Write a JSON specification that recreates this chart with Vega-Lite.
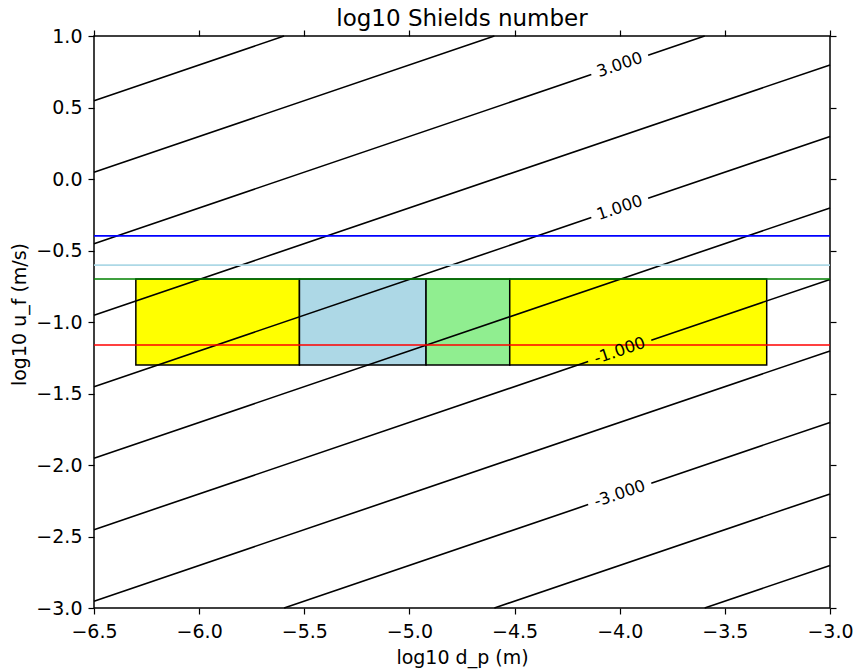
{
  "$schema": "https://vega.github.io/schema/vega-lite/v6.json",
  "width": 736,
  "height": 572,
  "autosize": {"type": "none"},
  "padding": {"left": 94, "top": 36, "right": 24, "bottom": 63},
  "background": "white",
  "title": {"text": "log10 Shields number", "fontSize": 23, "fontWeight": "normal", "font": "DejaVu Sans", "anchor": "middle", "baseline": "alphabetic", "offset": -22, "color": "black"},
  "config": {
    "view": {"stroke": "black", "strokeWidth": 1.5},
    "axis": {"domain": false, "grid": false, "tickColor": "black", "tickSize": 6, "tickWidth": 1.2, "labelFont": "DejaVu Sans", "labelFontSize": 19, "labelColor": "black", "titleFont": "DejaVu Sans", "titleFontSize": 19, "titleFontWeight": "normal", "titleColor": "black", "labelOverlap": false, "labelFlush": false, "labelBound": false}
  },
  "datasets": {
    "rects": [
      {"x": -6.301, "x2": -5.523, "y": -1.301, "y2": -0.699, "band": "r1"},
      {"x": -5.523, "x2": -4.921, "y": -1.301, "y2": -0.699, "band": "r2"},
      {"x": -4.921, "x2": -4.523, "y": -1.301, "y2": -0.699, "band": "r3"},
      {"x": -4.523, "x2": -3.301, "y": -1.301, "y2": -0.699, "band": "r4"}
    ],
    "hlines": [
      {"y": -0.398, "line": "h1"},
      {"y": -0.602, "line": "h2"},
      {"y": -0.699, "line": "h3"},
      {"y": -1.161, "line": "h4"}
    ],
    "contours": [
      {"seg": "L5", "x": -6.5, "y": 0.548}, {"seg": "L5", "x": -5.596, "y": 1.0},
      {"seg": "L4", "x": -6.5, "y": 0.048}, {"seg": "L4", "x": -4.596, "y": 1.0},
      {"seg": "L3a", "x": -6.5, "y": -0.452}, {"seg": "L3a", "x": -4.135, "y": 0.730},
      {"seg": "L3b", "x": -3.865, "y": 0.865}, {"seg": "L3b", "x": -3.596, "y": 1.0},
      {"seg": "L2", "x": -6.5, "y": -0.952}, {"seg": "L2", "x": -3.0, "y": 0.798},
      {"seg": "L1a", "x": -6.5, "y": -1.452}, {"seg": "L1a", "x": -4.135, "y": -0.270},
      {"seg": "L1b", "x": -3.865, "y": -0.135}, {"seg": "L1b", "x": -3.0, "y": 0.298},
      {"seg": "L0", "x": -6.5, "y": -1.952}, {"seg": "L0", "x": -3.0, "y": -0.202},
      {"seg": "Lm1a", "x": -6.5, "y": -2.452}, {"seg": "Lm1a", "x": -4.15, "y": -1.277},
      {"seg": "Lm1b", "x": -3.85, "y": -1.127}, {"seg": "Lm1b", "x": -3.0, "y": -0.702},
      {"seg": "Lm2", "x": -6.5, "y": -2.952}, {"seg": "Lm2", "x": -3.0, "y": -1.202},
      {"seg": "Lm3a", "x": -5.596, "y": -3.0}, {"seg": "Lm3a", "x": -4.15, "y": -2.277},
      {"seg": "Lm3b", "x": -3.85, "y": -2.127}, {"seg": "Lm3b", "x": -3.0, "y": -1.702},
      {"seg": "Lm4", "x": -4.596, "y": -3.0}, {"seg": "Lm4", "x": -3.0, "y": -2.202},
      {"seg": "Lm5", "x": -3.596, "y": -3.0}, {"seg": "Lm5", "x": -3.0, "y": -2.702}
    ],
    "labels": [
      {"x": -4.0, "y": 0.798, "label": "3.000"},
      {"x": -4.0, "y": -0.202, "label": "1.000"},
      {"x": -4.0, "y": -1.202, "label": "-1.000"},
      {"x": -4.0, "y": -2.202, "label": "-3.000"}
    ]
  },
  "layer": [
    {
      "data": {"name": "rects"},
      "mark": {"type": "rect", "stroke": "black", "strokeWidth": 1.5},
      "encoding": {
        "x": {"field": "x", "type": "quantitative", "scale": {"domain": [-6.5, -3.0], "nice": false, "zero": false},
          "axis": {"orient": "bottom", "values": [-6.5, -6.0, -5.5, -5.0, -4.5, -4.0, -3.5, -3.0], "format": ".1f", "labelPadding": 8, "title": "log10 d_p (m)", "titleY": 55, "titleBaseline": "alphabetic", "titleAnchor": "middle"}},
        "x2": {"field": "x2"},
        "y": {"field": "y", "type": "quantitative", "scale": {"domain": [-3.0, 1.0], "nice": false, "zero": false},
          "axis": {"orient": "left", "values": [-3.0, -2.5, -2.0, -1.5, -1.0, -0.5, 0.0, 0.5, 1.0], "format": ".1f", "labelPadding": 6, "title": "log10 u_f (m/s)", "titleAngle": 270, "titleX": -69, "titleY": 278, "titleAlign": "center", "titleBaseline": "alphabetic"}},
        "y2": {"field": "y2"},
        "fill": {"field": "band", "type": "nominal", "scale": {"domain": ["r1", "r2", "r3", "r4"], "range": ["#ffff00", "#add8e6", "#90ee90", "#ffff00"]}, "legend": null}
      }
    },
    {
      "data": {"name": "contours"},
      "mark": {"type": "line", "color": "black", "strokeWidth": 1.6},
      "encoding": {
        "x": {"field": "x", "type": "quantitative", "axis": null},
        "y": {"field": "y", "type": "quantitative", "axis": null},
        "detail": {"field": "seg", "type": "nominal"}
      }
    },
    {
      "data": {"name": "hlines"},
      "mark": {"type": "rule", "strokeWidth": 1.6},
      "encoding": {
        "y": {"field": "y", "type": "quantitative", "axis": null},
        "color": {"field": "line", "type": "nominal", "scale": {"domain": ["h1", "h2", "h3", "h4"], "range": ["#0000ff", "#add8e6", "#008000", "#ff0000"]}, "legend": null}
      }
    },
    {
      "data": {"name": "labels"},
      "mark": {"type": "text", "angle": 341.2, "fontSize": 16.5, "font": "DejaVu Sans", "color": "black", "align": "center", "baseline": "middle"},
      "encoding": {
        "x": {"field": "x", "type": "quantitative", "axis": {"orient": "top", "labels": false, "title": null, "values": [-6.5, -6.0, -5.5, -5.0, -4.5, -4.0, -3.5, -3.0]}},
        "y": {"field": "y", "type": "quantitative", "axis": {"orient": "right", "labels": false, "title": null, "values": [-3.0, -2.5, -2.0, -1.5, -1.0, -0.5, 0.0, 0.5, 1.0]}},
        "text": {"field": "label"}
      }
    }
  ],
  "resolve": {"axis": {"x": "independent", "y": "independent"}}
}
